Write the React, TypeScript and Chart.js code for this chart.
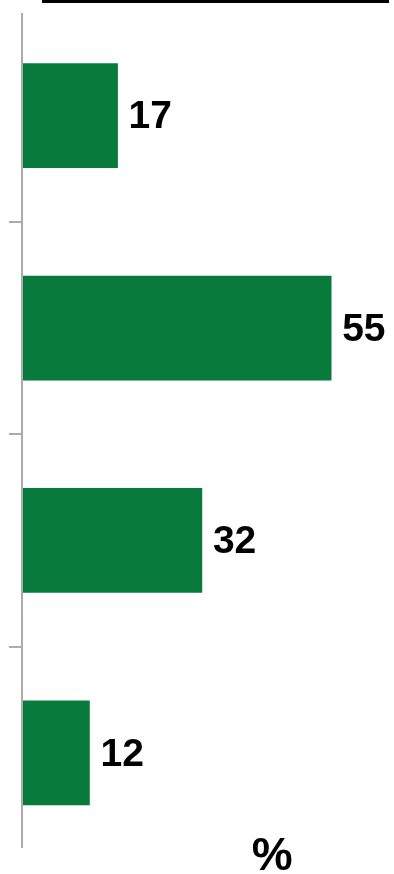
import React, { useEffect, useRef } from "react";
import { Chart, registerables } from "chart.js";

Chart.register(...registerables);

const categories = ["A", "B", "C", "D"];
const values = [17, 55, 32, 12];
const unitLabel = "%";

const barColor = "#087A3B";
const axisColor = "#ABABAB";

const decorPlugin = {
  id: "decor",
  afterDatasetsDraw(chart: any) {
    const { ctx, chartArea } = chart;
    const meta = chart.getDatasetMeta(0);
    ctx.save();
    // axis line
    ctx.strokeStyle = axisColor;
    ctx.lineWidth = 2;
    ctx.beginPath();
    ctx.moveTo(chartArea.left, chartArea.top + 3.5);
    ctx.lineTo(chartArea.left, chartArea.bottom - 11);
    ctx.stroke();
    // value labels
    ctx.fillStyle = "#000";
    ctx.font = "bold 39px 'Liberation Sans', Arial, sans-serif";
    ctx.textBaseline = "middle";
    ctx.textAlign = "left";
    meta.data.forEach((bar: any, i: number) => {
      ctx.fillText(String(values[i]), bar.x + 11, bar.y + 2);
    });
    // unit label
    ctx.font = "bold 46px 'Liberation Sans', Arial, sans-serif";
    ctx.textAlign = "center";
    ctx.textBaseline = "alphabetic";
    ctx.fillText(unitLabel, chart.width * 0.691, chart.height - 4);
    ctx.restore();
  },
};

export default function App() {
  const ref = useRef<HTMLCanvasElement>(null);
  useEffect(() => {
    if (!ref.current) return;
    const chart = new Chart(ref.current, {
      type: "bar",
      data: {
        labels: categories,
        datasets: [
          {
            data: values,
            backgroundColor: barColor,
            barThickness: 104,
          },
        ],
      },
      options: {
        indexAxis: "y",
        animation: false,
        responsive: false,
        events: [],
        layout: { padding: { left: 9, right: 1, top: 9.5, bottom: 15 } },
        plugins: { legend: { display: false }, tooltip: { enabled: false } },
        scales: {
          x: { display: false, min: 0, max: 66 },
          y: {
            display: true,
            offset: true,
            border: { display: false },
            ticks: { display: false },
            grid: {
              offset: true,
              drawOnChartArea: false,
              drawTicks: true,
              tickLength: 13,
              lineWidth: 2,
              color: (c: any) =>
                typeof c.index === "number" && c.index >= 1 && c.index <= 3
                  ? axisColor
                  : "rgba(0,0,0,0)",
            },
          },
        },
      },
      plugins: [decorPlugin],
    });
    return () => chart.destroy();
  }, []);
  return (
    <div style={{ position: "fixed", left: 0, top: 0, width: 394, height: 874, background: "#fff" }}>
      <div style={{ position: "absolute", left: 42, top: 0, width: 347, height: 3, background: "#000" }} />
      <canvas ref={ref} width={394} height={874} style={{ display: "block" }} />
    </div>
  );
}
